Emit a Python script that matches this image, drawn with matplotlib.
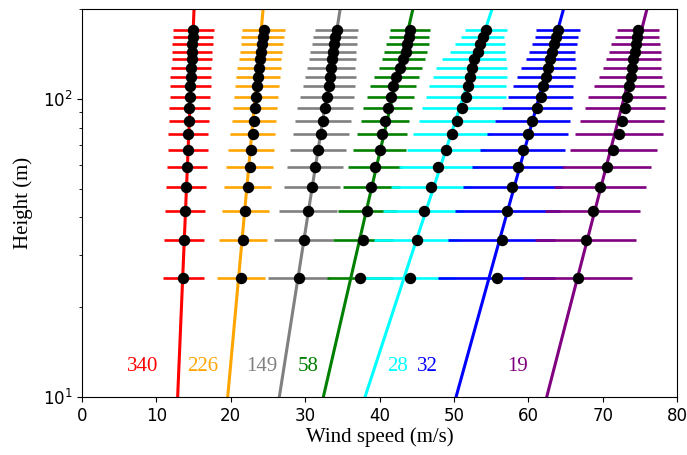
import numpy as np
import matplotlib
matplotlib.use("Agg")
import matplotlib.pyplot as plt
from matplotlib.ticker import NullFormatter

# Measurement heights (m)
heights = [25, 33.5, 42, 50.5, 59, 67.5, 76, 84.5, 93, 101.5,
           110, 118.5, 127, 135.5, 144, 152.5, 161, 169.5]

# Number of profiles in each class
counts = ["340", "226", "149", "58", "28", "32", "19"]
colors = ["red", "orange", "gray", "green", "cyan", "blue", "purple"]

# Mean wind speed (m/s) per class
speed_340 = [13.62, 13.76, 13.89, 14.02, 14.12, 14.21, 14.29, 14.39, 14.43,
             14.48, 14.56, 14.61, 14.66, 14.75, 14.79, 14.83, 14.93, 14.97]
speed_226 = [21.38, 21.65, 21.96, 22.28, 22.55, 22.72, 22.95, 23.13, 23.26,
             23.44, 23.57, 23.71, 23.80, 23.93, 24.07, 24.16, 24.29, 24.43]
speed_149 = [29.22, 29.81, 30.39, 30.92, 31.33, 31.78, 32.13, 32.40, 32.67,
             32.94, 33.17, 33.39, 33.52, 33.66, 33.79, 33.93, 34.06, 34.24]
speed_58 = [37.38, 37.82, 38.36, 38.90, 39.35, 40.00, 40.38, 40.74, 41.08,
            41.48, 41.82, 42.26, 42.76, 43.20, 43.52, 43.74, 43.97, 44.10]
speed_28 = [44.10, 45.00, 45.94, 46.92, 47.91, 48.90, 49.75, 50.42, 51.05,
            51.60, 51.86, 52.12, 52.39, 52.73, 53.18, 53.51, 53.87, 54.32]
speed_32 = [55.76, 56.43, 57.18, 57.85, 58.58, 59.25, 59.92, 60.55, 61.14,
            61.69, 62.02, 62.36, 62.70, 62.97, 63.22, 63.49, 63.77, 64.00]
speed_19 = [66.65, 67.72, 68.66, 69.65, 70.55, 71.44, 72.20, 72.61, 73.01,
            73.24, 73.51, 73.78, 73.95, 74.13, 74.32, 74.45, 74.58, 74.80]

# Standard deviation of wind speed (m/s) per class
std_340 = [2.72, 2.71, 2.69, 2.71, 2.72, 2.70, 2.71, 2.72, 2.72,
           2.71, 2.73, 2.73, 2.72, 2.71, 2.73, 2.72, 2.74, 2.76]
std_226 = [3.27, 3.23, 3.18, 3.18, 3.18, 3.05, 3.05, 2.96, 2.96,
           2.96, 2.96, 2.96, 2.91, 2.87, 2.87, 2.82, 2.87, 2.87]
std_149 = [4.17, 3.97, 3.87, 3.81, 3.76, 3.76, 3.79, 3.74, 3.74,
           3.63, 3.50, 3.40, 3.25, 3.13, 3.09, 3.00, 2.96, 2.89]
std_58 = [4.40, 4.03, 3.99, 3.81, 3.63, 3.50, 3.36, 3.29, 3.29,
          3.19, 3.09, 3.03, 2.89, 2.89, 2.86, 2.86, 2.72, 2.69]
std_28 = [6.05, 5.69, 5.42, 5.38, 5.28, 5.24, 5.20, 5.15, 5.38,
          5.38, 5.15, 4.97, 4.75, 4.30, 3.71, 3.39, 2.93, 2.89]
std_32 = [7.85, 7.18, 7.03, 6.68, 6.18, 5.75, 5.45, 5.00, 4.71,
          4.36, 4.03, 3.93, 3.67, 3.29, 3.11, 3.01, 2.92, 2.93]
std_19 = [7.35, 6.76, 6.41, 6.14, 5.96, 5.85, 5.92, 5.65, 5.42,
          5.22, 4.68, 4.24, 3.94, 3.67, 3.52, 3.29, 2.96, 2.82]

# Log-law fit per class: u(z) = u10 + slope * ln(z / 10)
fit_u10 = [12.86, 19.59, 26.53, 32.45, 38.05, 50.29, 62.48]
fit_slope = [0.736, 1.590, 2.731, 4.019, 5.703, 4.826, 4.501]

speeds = [speed_340, speed_226, speed_149, speed_58, speed_28, speed_32, speed_19]
stds = [std_340, std_226, std_149, std_58, std_28, std_32, std_19]

# Placement of the class labels near the bottom of the panel
label_x = [8.1, 16.2, 24.2, 30.4, 42.4, 46.5, 58.5]
label_y = 12.7

serif = ["Liberation Serif", "DejaVu Serif"]

fig = plt.figure(figsize=(6.87, 4.55), dpi=100)
ax = fig.add_axes([82 / 687, 1 - 397 / 455, 595 / 687, 388 / 455])

z_fit = np.geomspace(10, 200, 100)
for u, sd, c, a, s in zip(speeds, stds, colors, fit_u10, fit_slope):
    ax.errorbar(u, heights, xerr=sd, fmt="none", ecolor=c,
                elinewidth=1.9, capsize=0, zorder=1)
    ax.plot(a + s * np.log(z_fit / 10), z_fit, color=c, lw=2.2, zorder=2)
    ax.plot(u, heights, "o", color="black", ms=7.2, zorder=3)

for x, txt, c in zip(label_x, counts, colors):
    ax.text(x, label_y, txt, color=c, fontsize=15, family=serif,
            ha="center", va="center")

ax.set_yscale("log")
ax.set_xlim(0, 80)
ax.set_ylim(10, 200)
ax.set_xticks(np.arange(0, 81, 10))
ax.yaxis.set_minor_formatter(NullFormatter())
ax.tick_params(axis="both", which="major", labelsize=12)

ax.set_xlabel("Wind speed (m/s)", fontsize=15, family=serif, labelpad=2)
ax.set_ylabel("Height (m)", fontsize=15, family=serif, labelpad=7)

fig.savefig("out.png", dpi=100)
